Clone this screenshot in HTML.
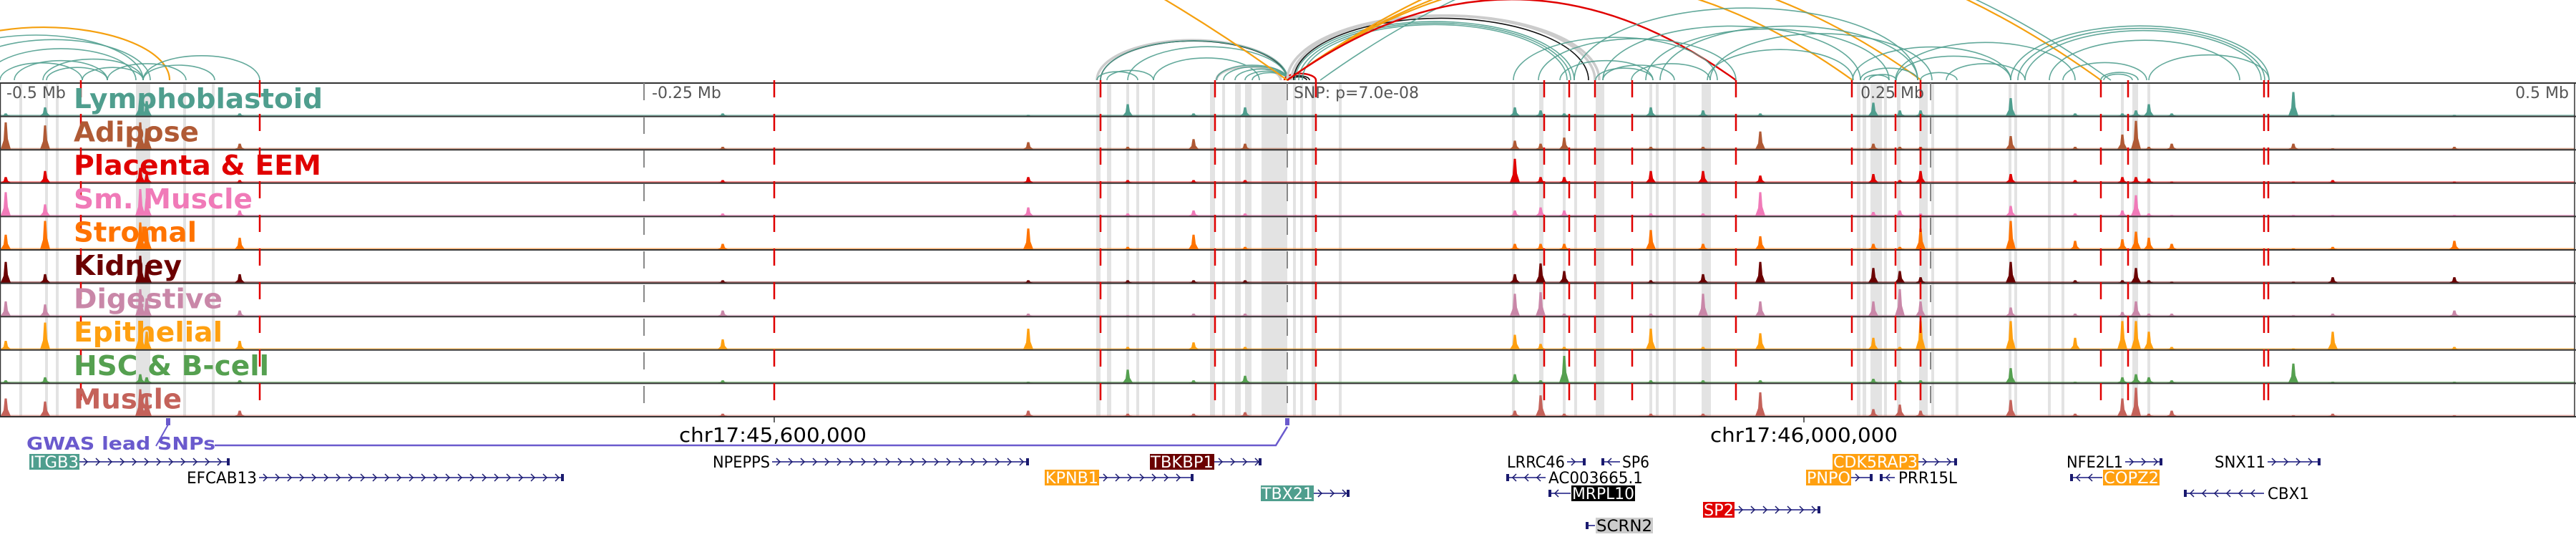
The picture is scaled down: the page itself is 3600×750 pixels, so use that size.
<!DOCTYPE html>
<html><head><meta charset="utf-8"><style>
html,body{margin:0;padding:0;background:#fff;}
svg{display:block;}
</style></head><body>
<svg id="chart" width="3600" height="750" viewBox="0 0 3600 750" xmlns="http://www.w3.org/2000/svg">
<g id="bands"></g>
<g id="arcs"></g>
<g id="tracks"></g>
<g id="vlines"></g>
<g id="labels"></g>
<g id="genes"></g>
</svg>
<script>
const NS="http://www.w3.org/2000/svg";
// ---- data ----
const trackNames=["Lymphoblastoid","Adipose","Placenta & EEM","Sm. Muscle","Stromal","Kidney","Digestive","Epithelial","HSC & B-cell","Muscle"];
const trackColors=["#4f9e8e","#b05a35","#e00000","#f07ab8","#ff7300","#6b0000","#c987a8","#ffa010","#55a050","#c4625a"];
const labelWidths=[348,175,346,250,172,151,208,208,273,151];
const peakPos=[8,63,196,205,335,1010,1437,1576,1668,1740,2117,2153,2186,2307,2380,2460,2618,2655,2684,2810,2900,2966,2985,3003,3035,3205,3260,3430];
const peakHeights=[
[0.1,0.9,0.2,0.8,0.5,0.7,0.5,0.3,0.1,0.6],
[0.3,0.8,0.4,0.4,0.95,0.3,0.4,0.9,0.2,0.5],
[0.6,0.9,0.5,0.9,0.9,0.9,0.9,0.9,0.3,0.9],
[0.5,0.7,0.3,0.6,0.7,0.6,0.6,0.6,0.2,0.7],
[0.1,0.2,0.1,0.2,0.4,0.3,0.2,0.3,0.1,0.2],
[0.1,0.1,0.1,0.1,0.2,0.1,0.2,0.35,0.1,0.1],
[0.05,0.25,0.2,0.3,0.7,0.1,0.1,0.7,0.05,0.2],
[0.4,0.1,0.1,0.1,0.1,0.1,0.05,0.1,0.45,0.1],
[0.1,0.35,0.1,0.2,0.5,0.1,0.1,0.25,0.1,0.1],
[0.3,0.2,0.1,0.1,0.1,0.1,0.1,0.1,0.25,0.15],
[0.3,0.3,0.8,0.2,0.2,0.3,0.75,0.5,0.3,0.2],
[0.2,0.2,0.2,0.3,0.2,0.65,0.8,0.2,0.1,0.7],
[0.1,0.4,0.2,0.2,0.2,0.4,0.1,0.1,0.9,0.1],
[0.3,0.1,0.4,0.1,0.65,0.1,0.1,0.7,0.1,0.1],
[0.2,0.1,0.4,0.1,0.2,0.3,0.75,0.1,0.1,0.1],
[0.1,0.6,0.25,0.8,0.45,0.7,0.5,0.55,0.1,0.8],
[0.45,0.2,0.3,0.15,0.2,0.5,0.5,0.4,0.15,0.25],
[0.2,0.1,0.1,0.2,0.1,0.4,0.9,0.1,0.1,0.4],
[0.2,0.1,0.4,0.1,0.7,0.2,0.5,0.95,0.1,0.2],
[0.6,0.45,0.3,0.35,0.95,0.7,0.3,0.95,0.5,0.55],
[0.1,0.1,0.1,0.1,0.3,0.1,0.1,0.4,0.05,0.1],
[0.1,0.5,0.2,0.2,0.35,0.1,0.15,0.95,0.2,0.6],
[0.2,0.95,0.2,0.7,0.6,0.5,0.5,0.95,0.3,0.95],
[0.4,0.1,0.15,0.1,0.4,0.1,0.1,0.6,0.2,0.1],
[0.1,0.2,0.05,0.05,0.2,0.05,0.1,0.1,0.1,0.2],
[0.8,0.2,0.05,0.05,0.05,0.05,0.05,0.05,0.65,0.05],
[0.05,0.05,0.1,0.05,0.1,0.2,0.1,0.6,0.05,0.1],
[0.05,0.1,0.05,0.05,0.3,0.2,0.2,0.1,0.05,0.05]];
const bands=[[27,31],[63,67],[78,82],[190,210],[256,260],[296,300],[1532,1538],[1547,1553],[1574,1578],[1588,1592],[1610,1614],[1691,1698],[1708,1712],[1726,1734],[1740,1749],[1763,1799],[1807,1811],[1817,1821],[1833,1839],[1871,1875],[2113,2117],[2151,2157],[2184,2188],[2200,2204],[2230,2242],[2305,2309],[2314,2318],[2338,2342],[2378,2391],[2595,2600],[2603,2608],[2614,2630],[2633,2637],[2651,2656],[2682,2694],[2699,2703],[2733,2737],[2807,2811],[2815,2819],[2862,2866],[2881,2885],[2964,2968],[2980,2988],[3001,3005]];
const redLines=[113,363,1082,1538,1698,1839,2158,2193,2229,2281,2426,2588,2649,2684,2936,2974,3164,3170];
const grayLines=[900,1799,2698];
const axisLabels=["-0.5 Mb","-0.25 Mb","SNP: p=7.0e-08","0.25 Mb","0.5 Mb"];
const axisLabelX=[9,911,1808,2689,3590];
const axisAnchor=["start","start","start","end","end"];
const arcStart=[-115,-100,-60,-20,0,20,60,115,150,200,200,65,
1533,1538,1533,1547,1538,1576,1612,1700,1700,1710,1726,1740,1750,1795,1800,1804,
1799,1808,1805,1810,1815,1820,1845,-200,1799,1799,1799,1799,
2115,2150,2180,2230,2240,2280,2240,2300,2320,2386,2390,2200,2589,2600,2605,2612,2649,2650,2684,2720,2810,2820,2830,2864,2883,2936,2940,3003];
const arcEnd=[237,200,210,190,115,150,200,200,260,300,363,150,
1799,1799,1590,1612,1800,1799,1760,1790,1800,1800,1800,1800,1800,1839,1830,1826,
2229,2220,2235,2200,2195,2190,2950,1799,2589,2685,2936,2426,
2400,2426,2310,2310,2340,2390,2600,2640,2680,2590,2700,2680,2810,2680,2640,2650,2900,2810,2735,2830,3171,3165,3160,3130,3000,2988,2980,3171];
const arcColor=["o","t","t","t","t","t","t","t","t","t","t","t",
"g","k","t","t","t","t","t","g","t","t","t","t","t","r","k","k",
"g","k","g","t","t","t","t","o","o","o","o","r",
"t","t","t","t","t","t","t","t","t","t","t","t","t","t","t","t","t","t","t","t","t","t","t","t","t","t","t","t"];
const genes=[
{n:"ITGB3",s:111,e:321,row:0,str:1,box:"#4f9e8e",lx:41,lw:70},
{n:"EFCAB13",s:362,e:788,row:1,str:1,box:null,lx:260,lw:100},
{n:"NPEPPS",s:1079,e:1438,row:0,str:1,box:null,lx:995,lw:82},
{n:"TBKBP1",s:1697,e:1763,row:0,str:1,box:"#6b0000",lx:1607,lw:90},
{n:"KPNB1",s:1536,e:1668,row:1,str:1,box:"#ffa010",lx:1460,lw:76},
{n:"TBX21",s:1836,e:1886,row:2,str:1,box:"#4f9e8e",lx:1762,lw:74},
{n:"LRRC46",s:2190,e:2216,row:0,str:1,box:null,lx:2105,lw:83},
{n:"SP6",s:2238,e:2264,row:0,str:-1,box:null,lx:2266,lw:40},
{n:"AC003665.1",s:2105,e:2160,row:1,str:-1,box:null,lx:2163,lw:134},
{n:"MRPL10",s:2164,e:2195,row:2,str:-1,box:"#000000",lx:2196,lw:89},
{n:"SCRN2",s:2216,e:2229,row:4,str:-1,box:"#cccccc",lx:2230,lw:80,dark:true},
{n:"SP2",s:2424,e:2544,row:3,str:1,box:"#e00000",lx:2380,lw:44},
{n:"CDK5RAP3",s:2681,e:2735,row:0,str:1,box:"#ffa010",lx:2561,lw:120},
{n:"PNPO",s:2587,e:2617,row:1,str:1,box:"#ffa010",lx:2524,lw:63},
{n:"PRR15L",s:2627,e:2648,row:1,str:-1,box:null,lx:2652,lw:84},
{n:"NFE2L1",s:2970,e:3022,row:0,str:1,box:null,lx:2887,lw:81},
{n:"COPZ2",s:2893,e:2938,row:1,str:-1,box:"#ffa010",lx:2939,lw:79},
{n:"SNX11",s:3169,e:3243,row:0,str:1,box:null,lx:3094,lw:73},
{n:"CBX1",s:3052,e:3164,row:2,str:-1,box:null,lx:3168,lw:60}];
// ---- layout ----
const T0=116, TH=46.6, NT=10, BOT=T0+TH*NT;
const ARC_BASE=112;
const rowY=[645,667,689,712,734];
function el(tag,attrs,parent){const e=document.createElementNS(NS,tag);for(const k in attrs)e.setAttribute(k,attrs[k]);parent.appendChild(e);return e;}
const gB=document.getElementById('bands'),gA=document.getElementById('arcs'),gT=document.getElementById('tracks'),gV=document.getElementById('vlines'),gL=document.getElementById('labels'),gG=document.getElementById('genes');
bands.forEach(b=>{const r=el('rect',{x:b[0],y:T0,width:b[1]-b[0],height:BOT-T0,fill:'#e3e3e3'},gB);

});
const colMap={t:['#52a090',1.6],g:['#cccccc',3.5],k:['#111111',1.6],o:['#f5a00f',2.2],r:['#e00000',2.4]};
arcStart.forEach((x1,i)=>{const x2=arcEnd[i];const s=x2-x1;const c=colMap[arcColor[i]];
let d;
if(s>600){const H=0.36*s;d=`M${x1},${ARC_BASE} Q${(x1+x2)/2},${ARC_BASE-H} ${x2},${ARC_BASE}`;}
else{const a=s/2,b=0.21*s;d=`M${x1},${ARC_BASE} A${a},${b} 0 0 1 ${x2},${ARC_BASE}`;}
const p=el('path',{d:d,fill:'none',stroke:c[0],'stroke-width':c[1],opacity:arcColor[i]=='t'?0.9:1},gA);

});
for(let t=0;t<NT;t++){
  const top=T0+t*TH, bot=top+TH, col=trackColors[t];
  const g=el('g',{},gT);
  
  
  el('rect',{x:0,y:bot-2.5,width:3598,height:2,fill:col,opacity:0.55},g);
  peakPos.forEach((x,i)=>{const h=peakHeights[i][t]*(TH-4);
    const p=el('path',{d:`M${x-7},${bot-1} L${x-3},${bot-h*0.35} L${x-1.5},${bot-h} L${x+1.5},${bot-h} L${x+3},${bot-h*0.4} L${x+7},${bot-1} Z`,fill:col},g);
    
    });
}
for(let t=0;t<=NT;t++){el('line',{x1:0,x2:3600,y1:T0+t*TH,y2:T0+t*TH,stroke:'#333',"stroke-width":2},gT);}
el('line',{x1:0.5,x2:0.5,y1:T0,y2:BOT,stroke:'#333','stroke-width':1.5},gT);
el('line',{x1:3598,x2:3598,y1:T0,y2:BOT,stroke:'#333','stroke-width':1.5},gT);
redLines.forEach(x=>{const l=el('line',{x1:x,x2:x,y1:ARC_BASE,y2:BOT,stroke:'#e00000','stroke-width':2.5,'stroke-dasharray':'24,23'},gV);

});
grayLines.forEach(x=>{const l=el('line',{x1:x,x2:x,y1:T0,y2:BOT,stroke:'#888','stroke-width':2,'stroke-dasharray':'24,23'},gV);

});
axisLabels.forEach((s,i)=>{const tx=el('text',{x:axisLabelX[i],y:137,'font-family':'"DejaVu Sans","Liberation Sans",sans-serif','font-size':22,fill:'#555','text-anchor':axisAnchor[i]},gV);tx.textContent=s;

});
trackNames.forEach((n,t)=>{const tx=el('text',{x:103,y:T0+t*TH+35,'font-family':'"DejaVu Sans","Liberation Sans",sans-serif','font-weight':'bold','font-size':38,fill:trackColors[t],textLength:labelWidths[t],lengthAdjust:'spacingAndGlyphs'},gL);tx.textContent=n;

});
const gw=el('text',{x:37,y:628,'font-family':'"DejaVu Sans","Liberation Sans",sans-serif','font-weight':'bold','font-size':25,fill:'#6a5acd',textLength:264,lengthAdjust:'spacingAndGlyphs'},gG);gw.textContent="GWAS lead SNPs";


el('path',{d:'M300,622 L1783,622 L1799,596',fill:'none',stroke:'#6a5acd','stroke-width':2.5},gG);
el('path',{d:'M218,623 L235,593',fill:'none',stroke:'#6a5acd','stroke-width':2},gG);
[235,1799].forEach(x=>{const r=el('rect',{x:x-3,y:584,width:6,height:10,fill:'#6a5acd'},gG);

});
[[1082,949,"chr17:45,600,000"],[2521,2390,"chr17:46,000,000"]].forEach(c=>{el('line',{x1:c[0],x2:c[0],y1:582,y2:590,stroke:'#333','stroke-width':1.5},gG);
const tx=el('text',{x:c[1],y:617,'font-family':'"DejaVu Sans","Liberation Sans",sans-serif','font-size':28,fill:'#000',textLength:262,lengthAdjust:'spacingAndGlyphs'},gG);tx.textContent=c[2];

});
genes.forEach(g=>{const y=rowY[g.row];const gg=el('g',{},gG);


el('line',{x1:g.s,x2:g.e,y1:y,y2:y,stroke:'#5050a0','stroke-width':2},gg);
for(let x=g.s+10;x<g.e-4;x+=17){const d=g.str>0?`M${x-4},${y-5} L${x+1},${y} L${x-4},${y+5}`:`M${x+4},${y-5} L${x-1},${y} L${x+4},${y+5}`;el('path',{d:d,fill:'none',stroke:'#1a1a6e','stroke-width':1.5},gg);}
const ex=g.str>0?g.e-4:g.s;el('rect',{x:ex,y:y-5,width:4,height:10,fill:'#1a1a6e'},gg);
if(g.box){el('rect',{x:g.lx,y:y-11,width:g.lw,height:22,fill:g.box},gg);}
const tx=el('text',{x:g.lx+1,y:y+8,'font-family':'"DejaVu Sans","Liberation Sans",sans-serif','font-size':22,fill:(g.box&&!g.dark)?'#fff':'#000',textLength:g.lw-2,lengthAdjust:'spacingAndGlyphs'},gg);tx.textContent=g.n;});
</script>
</body></html>
